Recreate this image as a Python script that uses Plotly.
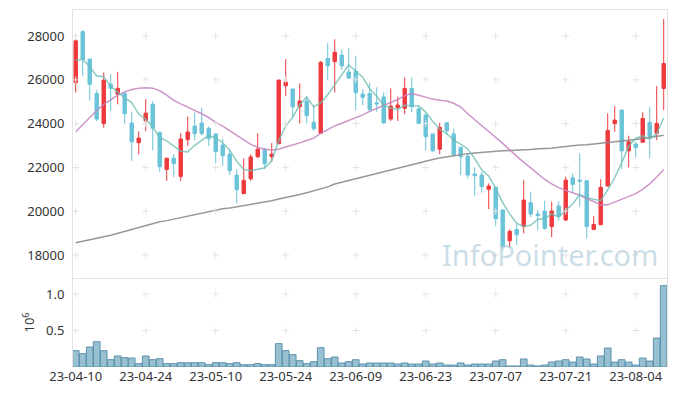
import plotly.graph_objects as go

# ---------------- data ----------------
dates = [
    "23-04-10", "23-04-11", "23-04-12", "23-04-13", "23-04-14", "23-04-17", "23-04-18", "23-04-19",
    "23-04-20", "23-04-21", "23-04-24", "23-04-25", "23-04-26", "23-04-27", "23-04-28", "23-05-02",
    "23-05-03", "23-05-04", "23-05-08", "23-05-09", "23-05-10", "23-05-11", "23-05-12", "23-05-15",
    "23-05-16", "23-05-17", "23-05-18", "23-05-19", "23-05-22", "23-05-23", "23-05-24", "23-05-25",
    "23-05-26", "23-05-30", "23-05-31", "23-06-01", "23-06-02", "23-06-05", "23-06-07", "23-06-08",
    "23-06-09", "23-06-12", "23-06-13", "23-06-14", "23-06-15", "23-06-16", "23-06-19", "23-06-20",
    "23-06-21", "23-06-22", "23-06-23", "23-06-26", "23-06-27", "23-06-28", "23-06-29", "23-06-30",
    "23-07-03", "23-07-04", "23-07-05", "23-07-06", "23-07-07", "23-07-10", "23-07-11", "23-07-12",
    "23-07-13", "23-07-14", "23-07-17", "23-07-18", "23-07-19", "23-07-20", "23-07-21", "23-07-24",
    "23-07-25", "23-07-26", "23-07-27", "23-07-28", "23-07-31", "23-08-01", "23-08-02", "23-08-03",
    "23-08-04", "23-08-07", "23-08-08", "23-08-09", "23-08-10",
]

opens = [25870, 28200, 26950, 25380, 24000, 25800, 25340, 25380, 24030, 23130,
         24120, 24880, 23600, 21910, 22420, 21590, 23270, 23890, 24030, 23790,
         23530, 23020, 22610, 21650, 20800, 21480, 22490, 22810, 22490, 23080,
         25730, 25580, 24770, 25030, 24060, 23560, 26980, 26830, 27130, 26360,
         26400, 25350, 25380, 24950, 25220, 24210, 24730, 24700, 25610, 24670,
         24390, 23530, 22830, 24040, 23530, 22920, 22520, 21700, 21650, 21000,
         21100, 20060, 18650, 19170, 19300, 20390, 19870, 20010, 19300, 20240,
         19600, 21530, 21420, 21390, 19170, 19380, 21150, 24000, 24620, 22760,
         23070, 23150, 24060, 23560, 25610]
highs = [27850, 28270, 26960, 25530, 26340, 26250, 26370, 25460, 24540, 23650,
         25120, 25030, 23650, 22420, 22600, 23570, 24320, 24520, 24740, 23870,
         23560, 23300, 22800, 21930, 22420, 22600, 23560, 22900, 23110, 26000,
         26950, 25580, 25840, 25260, 24850, 26860, 27670, 27850, 27390, 27440,
         27100, 25580, 25870, 25660, 25430, 25610, 25230, 26110, 26110, 24780,
         24500, 23530, 24040, 24040, 23770, 22920, 22640, 22000, 21800, 21270,
         21110, 20060, 19170, 19450, 21420, 20890, 20050, 20480, 20430, 20460,
         21580, 21730, 22640, 21400, 19780, 21460, 24470, 24800, 24620, 23450,
         23160, 24520, 24770, 25720, 28780]
lows = [25420, 26170, 25050, 24120, 23810, 24590, 24880, 24000, 22300, 22600,
        23660, 22780, 21800, 21380, 21550, 21380, 22980, 23240, 23450, 22980,
        22200, 22080, 21650, 20360, 20800, 21390, 22420, 21930, 22260, 23080,
        25270, 24270, 24010, 24010, 23660, 23560, 25990, 25430, 26450, 26040,
        24620, 24850, 24540, 24540, 24000, 24120, 24120, 24430, 24520, 24000,
        22760, 22700, 22600, 23480, 22480, 21650, 21500, 20700, 20850, 20100,
        19320, 18200, 18350, 18460, 18990, 19720, 19140, 19150, 18810, 19570,
        19550, 20820, 20210, 18760, 19170, 19380, 21150, 23630, 21930, 22000,
        22460, 23140, 22420, 23250, 24620]
closes = [27780, 26935, 25800, 24210, 25980, 25610, 25610, 24450, 23170, 23340,
          24480, 23790, 22030, 22420, 22170, 23300, 23620, 23540, 23540, 23310,
          22720, 22530, 21850, 20980, 21410, 22480, 22840, 22170, 22610, 25990,
          25900, 24770, 25030, 24360, 23770, 26800, 26640, 27260, 26640, 26080,
          25410, 25200, 24650, 24900, 24030, 24800, 24850, 25610, 24770, 24010,
          23400, 22760, 23830, 23680, 22570, 22490, 21650, 21620, 21120, 21150,
          19660, 18380, 19080, 18930, 20510, 19870, 19800, 19220, 20010, 19780,
          21420, 21230, 21370, 19300, 19400, 21090, 23690, 24160, 22760, 23170,
          22900, 24240, 23400, 24010, 26750]
# closes of the 4 sessions before the first bar (for the 5-day average)
prior_closes = [26685, 27500, 26340, 26145]

volume_millions = [0.224, 0.183, 0.274, 0.347, 0.224, 0.100, 0.151, 0.128, 0.123, 0.046,
                   0.151, 0.100, 0.114, 0.046, 0.046, 0.059, 0.059, 0.059, 0.059, 0.032,
                   0.059, 0.059, 0.046, 0.059, 0.032, 0.032, 0.046, 0.032, 0.032, 0.320,
                   0.224, 0.169, 0.087, 0.046, 0.073, 0.265, 0.114, 0.137, 0.055, 0.073,
                   0.100, 0.041, 0.055, 0.055, 0.055, 0.055, 0.041, 0.055, 0.041, 0.041,
                   0.082, 0.041, 0.055, 0.027, 0.027, 0.055, 0.027, 0.041, 0.041, 0.041,
                   0.082, 0.100, 0.014, 0.014, 0.110, 0.027, 0.014, 0.027, 0.068, 0.082,
                   0.100, 0.068, 0.137, 0.110, 0.041, 0.151, 0.260, 0.068, 0.100, 0.068,
                   0.027, 0.123, 0.082, 0.397, 1.114]

ma20 = [23630, 23950, 24300, 24600, 24880, 25100, 25300, 25450, 25560, 25620,
        25640, 25620, 25500, 25300, 25060, 24900, 24760, 24600, 24450, 24280,
        24060, 23890, 23680, 23450, 23230, 23050, 22920, 22830, 22800, 22830,
        22930, 23010, 23120, 23230, 23340, 23560, 23740, 23900, 24020, 24140,
        24270, 24400, 24560, 24700, 24820, 24950, 25100, 25280, 25380, 25300,
        25200, 25120, 25070, 25030, 24930, 24760, 24450, 24180, 23930, 23650,
        23380, 23100, 22800, 22500, 22230, 21980, 21700, 21450, 21250, 21080,
        20950, 20840, 20730, 20580, 20430, 20300, 20290, 20420, 20550, 20700,
        20800, 21000, 21250, 21560, 21910]

ma_long = [18560, 18620, 18690, 18760, 18830, 18900, 18990, 19060, 19180, 19260,
           19350, 19450, 19520, 19570, 19640, 19700, 19760, 19850, 19930, 20000,
           20050, 20110, 20150, 20200, 20260, 20320, 20370, 20420, 20480, 20560,
           20620, 20690, 20760, 20840, 20930, 21020, 21110, 21240, 21320, 21420,
           21510, 21580, 21650, 21730, 21810, 21880, 21960, 22040, 22120, 22200,
           22290, 22360, 22430, 22480, 22550, 22590, 22630, 22660, 22690, 22720,
           22740, 22760, 22770, 22780, 22800, 22820, 22850, 22860, 22880, 22920,
           22960, 22990, 23020, 23040, 23070, 23110, 23140, 23170, 23210, 23240,
           23280, 23320, 23380, 23420, 23470]

price_ticks = [18000, 20000, 22000, 24000, 26000, 28000]
volume_ticks = [0.5, 1.0]
date_ticks = dates[::10]

# 5-session moving average of closes
all_closes = prior_closes + closes
ma5 = [sum(all_closes[i:i + 5]) / 5 for i in range(len(closes))]

# ---------------- figure ----------------
FONT = "Noto Sans"
RED = "#EE3A3E"
BLUE = "#6BC3D8"
AXIS = "#E2E2E2"
PLUS = dict(symbol="cross-thin", size=5, line=dict(color="#E4E4E4", width=1))

fig = go.Figure()

fig.add_trace(go.Scatter(x=dates, y=ma_long, mode="lines", xaxis="x", yaxis="y",
                         line=dict(color="rgba(140,140,140,0.9)", width=1.5), showlegend=False))
fig.add_trace(go.Scatter(x=dates, y=ma20, mode="lines", xaxis="x", yaxis="y",
                         line=dict(color="rgba(196,130,192,0.85)", width=1.5), showlegend=False))
fig.add_trace(go.Scatter(x=dates, y=ma5, mode="lines", xaxis="x", yaxis="y",
                         line=dict(color="rgba(110,190,180,0.8)", width=1.5), showlegend=False))

fig.add_trace(go.Candlestick(
    x=dates, open=opens, high=highs, low=lows, close=closes,
    xaxis="x", yaxis="y", whiskerwidth=0,
    increasing=dict(line=dict(color=RED, width=1), fillcolor=RED),
    decreasing=dict(line=dict(color=BLUE, width=1), fillcolor=BLUE),
    showlegend=False,
))

fig.add_trace(go.Bar(x=dates, y=volume_millions, xaxis="x2", yaxis="y2",
                     marker=dict(color="rgba(128,176,198,0.8)",
                                 line=dict(color="rgba(82,140,168,0.9)", width=1)),
                     showlegend=False))

# grid "+" marks at tick intersections
gx, gy = [], []
for d in date_ticks:
    for p in price_ticks:
        gx.append(d); gy.append(p)
fig.add_trace(go.Scatter(x=gx, y=gy, mode="markers", xaxis="x", yaxis="y",
                         marker=PLUS, hoverinfo="skip", showlegend=False))
vx, vy = [], []
for d in date_ticks:
    for v in volume_ticks:
        vx.append(d); vy.append(v)
fig.add_trace(go.Scatter(x=vx, y=vy, mode="markers", xaxis="x2", yaxis="y2",
                         marker=PLUS, hoverinfo="skip", showlegend=False))

# the page places the figure 8px in from the top-left corner
split = 0.2493
xr = [-0.39, 84.47]
fig.update_layout(
    width=669, height=388,
    margin=dict(l=65, r=10, t=2, b=29, autoexpand=False),
    paper_bgcolor="white", plot_bgcolor="white",
    font=dict(family=FONT, size=13, color="#333333"),
    boxgap=0.3, bargap=0.05,
    xaxis=dict(type="category", categoryorder="array", categoryarray=dates,
               domain=[0, 1], anchor="y", range=xr, automargin=False,
               showticklabels=False, showgrid=False, zeroline=False,
               showline=True, mirror=True, linecolor=AXIS, linewidth=1,
               rangeslider=dict(visible=False), tickvals=date_ticks),
    yaxis=dict(domain=[split, 1], anchor="x", range=[16950, 29190], automargin=False,
               tickvals=price_ticks, ticktext=[str(t) for t in price_ticks],
               showgrid=False, zeroline=False,
               showline=True, mirror=True, linecolor=AXIS, linewidth=1,
               ticks="outside", ticklen=5, tickcolor="rgba(0,0,0,0)"),
    xaxis2=dict(type="category", categoryorder="array", categoryarray=dates,
                domain=[0, 1], anchor="y2", range=xr, automargin=False,
                tickvals=date_ticks, ticktext=date_ticks, tickangle=0,
                showgrid=False, zeroline=False, showline=False,
                ticks="", tickcolor="rgba(0,0,0,0)"),
    yaxis2=dict(domain=[0, split], anchor="x2", range=[0, 1.219], automargin=False,
                tickvals=volume_ticks, ticktext=["0.5", "1.0"],
                showgrid=False, zeroline=False,
                showline=True, mirror=True, linecolor=AXIS, linewidth=1,
                ticks="outside", ticklen=5, tickcolor="rgba(0,0,0,0)",
                title=dict(text="10<sup>6</sup>", standoff=8, font=dict(size=13))),
    annotations=[dict(text="InfoPointer.com", xref="paper", yref="paper",
                      x=0.803, y=0.3165, xanchor="center", yanchor="middle",
                      showarrow=False,
                      font=dict(family=FONT, size=29, color="rgba(168,198,216,0.6)"))],
)

fig.write_html("out.html")
